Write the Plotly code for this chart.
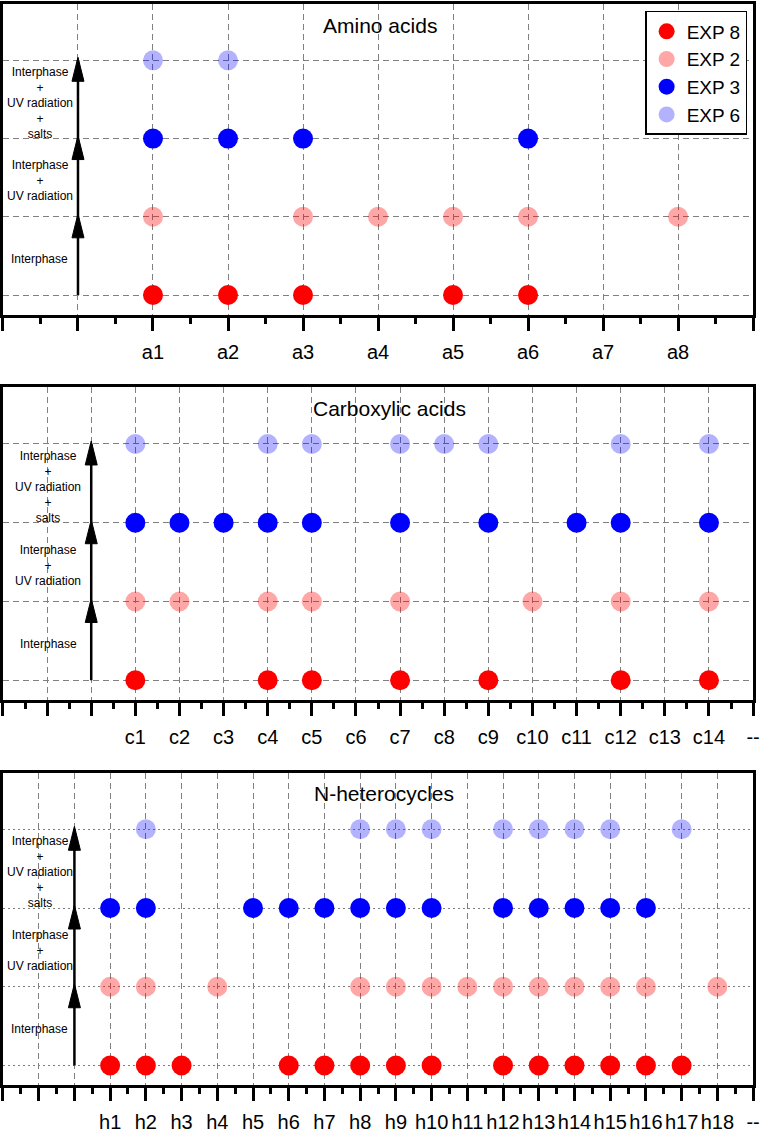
import plotly.graph_objects as go

W, H = 768, 1133
FONT = "Liberation Sans, Arial, sans-serif"

# experiments, bottom row to top row (also legend order)
EXPERIMENTS = ["EXP 8", "EXP 2", "EXP 3", "EXP 6"]
COLORS = ["#ff0000", "rgba(255,0,0,0.35)", "#0000ff", "rgba(0,0,255,0.30)"]
STAGES = [
    "Interphase",
    "Interphase<br>+<br>UV radiation",
    "Interphase<br>+<br>UV radiation<br>+<br>salts",
]

# --- Amino acids
AMINO_TICKS = ["", "", "a1", "a2", "a3", "a4", "a5", "a6", "a7", "a8", ""]
AMINO_EXP8 = ["a1", "a2", "a3", "a5", "a6"]
AMINO_EXP2 = ["a1", "a3", "a4", "a5", "a6", "a8"]
AMINO_EXP3 = ["a1", "a2", "a3", "a6"]
AMINO_EXP6 = ["a1", "a2"]

# --- Carboxylic acids
CARBOX_TICKS = ["", "", ""] + [f"c{i}" for i in range(1, 15)] + ["--"]
CARBOX_EXP8 = ["c1", "c4", "c5", "c7", "c9", "c12", "c14"]
CARBOX_EXP2 = ["c1", "c2", "c4", "c5", "c7", "c10", "c12", "c14"]
CARBOX_EXP3 = ["c1", "c2", "c3", "c4", "c5", "c7", "c9", "c11", "c12", "c14"]
CARBOX_EXP6 = ["c1", "c4", "c5", "c7", "c8", "c9", "c12", "c14"]

# --- N-heterocycles
HET_TICKS = ["", "", ""] + [f"h{i}" for i in range(1, 19)] + ["--"]
HET_EXP8 = ["h1", "h2", "h3", "h6", "h7", "h8", "h9", "h10", "h12", "h13",
            "h14", "h15", "h16", "h17"]
HET_EXP2 = ["h1", "h2", "h4", "h8", "h9", "h10", "h11", "h12", "h13", "h14",
            "h15", "h16", "h18"]
HET_EXP3 = ["h1", "h2", "h5", "h6", "h7", "h8", "h9", "h10", "h12", "h13",
            "h14", "h15", "h16"]
HET_EXP6 = ["h2", "h8", "h9", "h10", "h12", "h13", "h14", "h15", "h17"]

panels = [
    dict(title="Amino acids", ticks=AMINO_TICKS,
         series=[AMINO_EXP8, AMINO_EXP2, AMINO_EXP3, AMINO_EXP6],
         box=(4, 316), title_px=383, text_x=0.49, hdash="6px,4px"),
    dict(title="Carboxylic acids", ticks=CARBOX_TICKS,
         series=[CARBOX_EXP8, CARBOX_EXP2, CARBOX_EXP3, CARBOX_EXP6],
         box=(389, 703), title_px=393, text_x=1.03, hdash="6px,4px"),
    dict(title="N-heterocycles", ticks=HET_TICKS,
         series=[HET_EXP8, HET_EXP2, HET_EXP3, HET_EXP6],
         box=(776, 1090), title_px=388, text_x=1.03, hdash="2px,3px"),
]

fig = go.Figure()
annotations = []
shapes = []

for p_i, p in enumerate(panels, start=1):
    xa = "x" if p_i == 1 else f"x{p_i}"
    ya = "y" if p_i == 1 else f"y{p_i}"
    ticks = p["ticks"]

    for row, (name, color, present) in enumerate(zip(EXPERIMENTS, COLORS, p["series"])):
        fig.add_trace(go.Scatter(
            x=[ticks.index(lbl) for lbl in present],
            y=[row] * len(present),
            mode="markers", name=name,
            marker=dict(size=20, color=color, line=dict(width=0)),
            showlegend=(p_i == 1),
            xaxis=xa, yaxis=ya, hoverinfo="skip",
        ))

    top, bottom = p["box"]
    axis_x = dict(
        domain=[3 / W, 760 / W], range=[0, len(ticks) - 1],
        tickmode="array", tickvals=list(range(len(ticks))), ticktext=ticks,
        ticks="outside", ticklen=13, tickwidth=3, tickcolor="black",
        ticklabelstandoff=4,
        tickangle=0, tickfont=dict(size=20, color="black", family=FONT),
        showline=True, mirror=True, linecolor="black", linewidth=3,
        showgrid=True, gridcolor="#808080", gridwidth=1, griddash="6px,4px",
        zeroline=False, anchor=ya,
        minor=dict(tickmode="linear", tick0=0, dtick=0.5, ticks="outside",
                   ticklen=6, tickwidth=2.5, tickcolor="black", showgrid=False),
    )
    axis_y = dict(
        domain=[1 - bottom / H, 1 - top / H], range=[-0.25, 3.72],
        tickmode="array", tickvals=list(range(len(EXPERIMENTS))),
        showticklabels=False, ticks="",
        showline=True, mirror=True, linecolor="black", linewidth=3,
        showgrid=True, gridcolor="#808080", gridwidth=1, griddash=p["hdash"],
        zeroline=False, anchor=xa,
    )
    fig.update_layout({("xaxis" if p_i == 1 else f"xaxis{p_i}"): axis_x,
                       ("yaxis" if p_i == 1 else f"yaxis{p_i}"): axis_y})

    # panel title
    annotations.append(dict(
        text=p["title"], xref="paper", yref=ya, x=p["title_px"] / W, y=3.45,
        showarrow=False, font=dict(size=21, color="black", family=FONT),
    ))

    # stage labels between rows
    for s_i, stage in enumerate(STAGES):
        annotations.append(dict(
            text=stage, xref=xa, yref=ya, x=p["text_x"], y=s_i + 0.46,
            showarrow=False, align="center",
            font=dict(size=12, color="black", family=FONT),
        ))

    # progression arrow just left of the first compound
    arrow_x = next(i for i, t in enumerate(ticks) if t) - 1
    last_row = len(EXPERIMENTS) - 1
    shapes.append(dict(type="line", xref=xa, yref=ya, x0=arrow_x, x1=arrow_x,
                       y0=0, y1=last_row, line=dict(color="black", width=2.5)))
    for r in range(1, len(EXPERIMENTS)):
        shapes.append(dict(
            type="path", xref=xa, yref=ya,
            xsizemode="pixel", ysizemode="pixel", xanchor=arrow_x, yanchor=r,
            path="M0,3 L-6,-21 L6,-21 Z",
            fillcolor="black", line=dict(color="black", width=1),
        ))

fig.update_layout(
    width=W, height=H,
    margin=dict(l=0, r=0, t=0, b=0),
    paper_bgcolor="white", plot_bgcolor="white",
    font=dict(family=FONT, color="black"),
    annotations=annotations, shapes=shapes,
    legend=dict(
        x=754 / W, y=1 - 11 / H, xanchor="right", yanchor="top",
        bgcolor="white", bordercolor="black", borderwidth=1.5,
        font=dict(size=19, color="black", family=FONT),
        tracegroupgap=0, itemclick=False,
    ),
)

# drop the browser's default page margin so the figure sits at the corner
fig.write_html("out.html", config={"displayModeBar": False},
               post_script="document.body.style.margin='0px';")
